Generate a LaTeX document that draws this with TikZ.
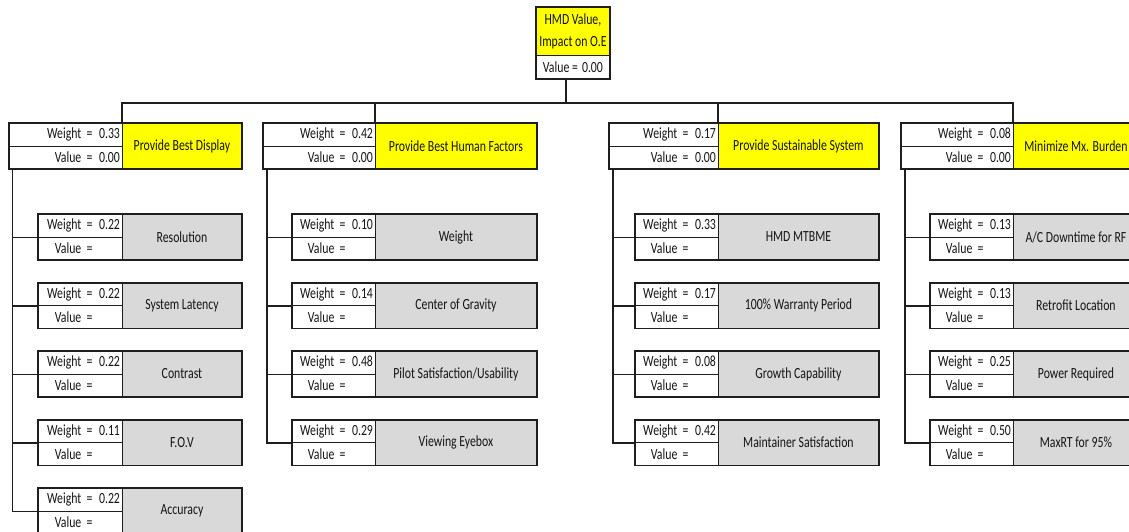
\documentclass[tikz,border=0pt]{standalone}
\usepackage{fontspec}
\setmainfont{Carlito}[FakeStretch=0.76]
\usetikzlibrary{calc}
\definecolor{hyel}{HTML}{FFFF00}
\definecolor{hgray}{HTML}{D9D9D9}
\definecolor{hline}{HTML}{1E1E1E}
\definecolor{htext}{HTML}{141414}
\tikzset{
  cell/.style={draw=hline, line width=0.9pt, inner sep=0pt, anchor=north west,
    font=\fontsize{15.5}{16}\selectfont, text=htext},
  frame/.style={draw=hline, line width=1.6pt},
  link/.style={draw=hline, line width=1.5pt},
}
% level-2 box: name, L, S, R, weight, title
\newcommand\midbox[6]{%
  \pgfmathsetmacro\wa{#3-#2}\pgfmathsetmacro\wb{#4-#3}\pgfmathsetmacro\ta{#3-#2-5}%
  \node[cell, minimum width=\wa pt, minimum height=22.5pt, text width=\ta pt, align=right] (#1w) at (#2,123) {Weight =\hspace{1.5pt} #5};
  \node[cell, minimum width=\wa pt, minimum height=22.5pt, text width=\ta pt, align=right] (#1v) at (#2,145.5) {Value =\hspace{1.5pt} 0.00};
  \node[cell, fill=hyel, minimum width=\wb pt, minimum height=45pt, align=center] (#1t) at (#3,123) {#6};
  \draw[frame] (#1w.north west) rectangle (#1t.south east);
}
% leaf box: name, L, S, R, top, weight, title
\newcommand\leafbox[7]{%
  \pgfmathsetmacro\wa{#3-#2}\pgfmathsetmacro\wb{#4-#3}\pgfmathsetmacro\ta{#3-#2-5}%
  \pgfmathsetmacro\yv{#5+22.5}%
  \node[cell, minimum width=\wa pt, minimum height=22.5pt, text width=\ta pt, align=right] (#1w) at (#2,#5) {Weight =\hspace{1.5pt} #6};
  \node[cell, minimum width=\wa pt, minimum height=22.5pt, text width=\ta pt, align=right] (#1v) at (#2,\yv) {Value =\hspace{1.5pt} \phantom{0.00}};
  \node[cell, fill=hgray, minimum width=\wb pt, minimum height=45pt, align=center] (#1g) at (#3,#5) {#7};
  \draw[frame] (#1w.north west) rectangle (#1g.south east);
}
\begin{document}
\begin{tikzpicture}[x=1pt, y=-1pt]
\useasboundingbox (0,0) rectangle (1129,531);
\clip (0,0) rectangle (1129,531);
\fill[white] (0,0) rectangle (1129,531);

% top box
\node[cell, fill=hyel, minimum width=73pt, minimum height=48pt, align=center,
  font=\fontsize{15.5}{22}\selectfont] (Tt) at (536,7) {HMD Value,\\Impact on O.E};
\node[cell, minimum width=73pt, minimum height=23pt] (Tv) at (536,55) {Value =\hspace{1.5pt} 0.00};
\draw[frame] (Tt.north west) rectangle (Tv.south east);

% level 2
\midbox{A}{9}{122}{241}{0.33}{Provide Best Display}
\midbox{B}{263}{375}{536}{0.42}{Provide Best Human Factors}
\midbox{C}{609}{718}{878}{0.17}{Provide Sustainable System}
\midbox{D}{901}{1013}{1138}{0.08}{Minimize Mx. Burden}

% bus
\coordinate (bus) at (0,103);
\coordinate (Td) at ([xshift=30pt]Tv.south west);
\draw[link] (Td) -- (Td |- bus);
\draw[link] (At.north west) |- (Dt.north west |- bus) -- (Dt.north west);
\draw[link] (Bt.north west) -- (Bt.north west |- bus);
\draw[link] (Ct.north west) -- (Ct.north west |- bus);

% leaves
\leafbox{Aa}{38}{122}{241}{214}{0.22}{Resolution}
\leafbox{Ab}{38}{122}{241}{282.5}{0.22}{System Latency}
\leafbox{Ac}{38}{122}{241}{351}{0.22}{Contrast}
\leafbox{Ad}{38}{122}{241}{419.5}{0.11}{F.O.V}
\leafbox{Ae}{38}{122}{241}{488}{0.22}{Accuracy}

\leafbox{Ba}{292}{375}{536}{214}{0.10}{Weight}
\leafbox{Bb}{292}{375}{536}{282.5}{0.14}{Center of Gravity}
\leafbox{Bc}{292}{375}{536}{351}{0.48}{Pilot Satisfaction/Usability}
\leafbox{Bd}{292}{375}{536}{419.5}{0.29}{Viewing Eyebox}

\leafbox{Ca}{635}{718}{878}{214}{0.33}{HMD MTBME}
\leafbox{Cb}{635}{718}{878}{282.5}{0.17}{100\% Warranty Period}
\leafbox{Cc}{635}{718}{878}{351}{0.08}{Growth Capability}
\leafbox{Cd}{635}{718}{878}{419.5}{0.42}{Maintainer Satisfaction}

\leafbox{Da}{930}{1013}{1138}{214}{0.13}{A/C Downtime for RF}
\leafbox{Db}{930}{1013}{1138}{282.5}{0.13}{Retrofit Location}
\leafbox{Dc}{930}{1013}{1138}{351}{0.25}{Power Required}
\leafbox{Dd}{930}{1013}{1138}{419.5}{0.50}{MaxRT for 95\%}

% leaf connectors
\coordinate (Ax) at ([xshift=3.5pt]Av.south west);
\draw[link] (Ax) |- (Aew.south west);
\foreach \n in {Aa,Ab,Ac,Ad}{\draw[link] (Ax |- \n w.south west) -- (\n w.south west);}
\coordinate (Bx) at ([xshift=4pt]Bv.south west);
\draw[link] (Bx) |- (Bdw.south west);
\foreach \n in {Ba,Bb,Bc}{\draw[link] (Bx |- \n w.south west) -- (\n w.south west);}
\coordinate (Cx) at ([xshift=4pt]Cv.south west);
\draw[link] (Cx) |- (Cdw.south west);
\foreach \n in {Ca,Cb,Cc}{\draw[link] (Cx |- \n w.south west) -- (\n w.south west);}
\coordinate (Dx) at ([xshift=4pt]Dv.south west);
\draw[link] (Dx) |- (Ddw.south west);
\foreach \n in {Da,Db,Dc}{\draw[link] (Dx |- \n w.south west) -- (\n w.south west);}
\end{tikzpicture}
\end{document}
